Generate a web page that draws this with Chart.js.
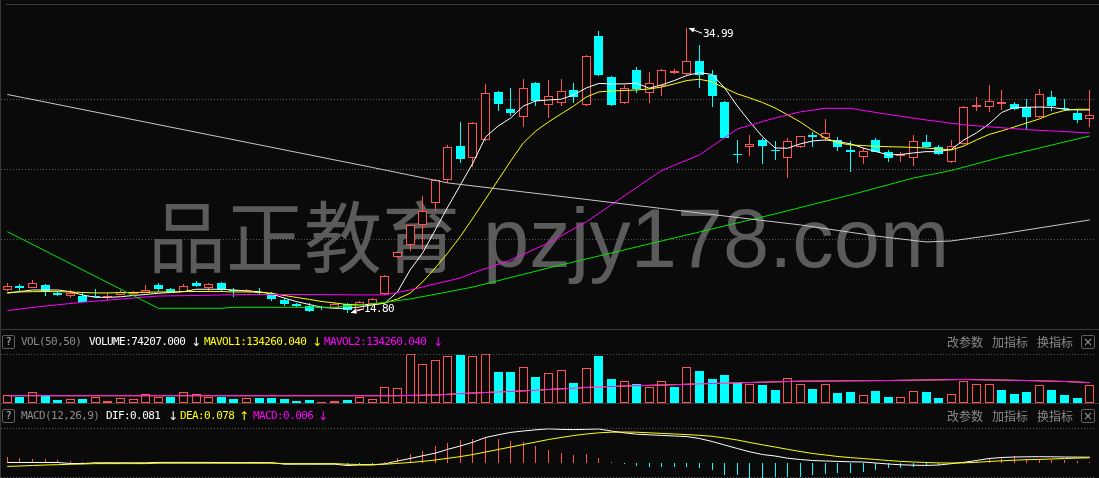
<!DOCTYPE html>
<html>
<head>
<meta charset="utf-8">
<script src="https://cdn.jsdelivr.net/npm/chart.js@4.4.0/dist/chart.umd.min.js"></script>
<style>
html, body { margin: 0; padding: 0; background: #0a0a0a; width: 1099px; height: 478px; overflow: hidden; }
#wrap { position: relative; width: 1099px; height: 478px; }
canvas { position: absolute; left: 1px; }
.t { position: absolute; font: 11px "DejaVu Sans Mono", monospace; letter-spacing: -0.6px; line-height: 13px; white-space: nowrap; }
.ar { position: absolute; font: 12px "DejaVu Sans", sans-serif; line-height: 13px; }
.cn { position: absolute; font: 12px "Noto Sans CJK SC", sans-serif; line-height: 14px; color: #8a8a8a; white-space: nowrap; }
.hl { position: absolute; height: 1px; background: #3a3a3a; }
.dot { position: absolute; left: 1px; width: 1095px; height: 1px;
       background-image: linear-gradient(to right, #555 1px, transparent 1px); background-size: 3px 1px; }
.q { position: absolute; left: 2px; width: 11px; height: 12px; border: 1px solid #5f5f5f; border-radius: 2px;
     font: 10px "DejaVu Sans Mono", monospace; line-height: 12px; color: #bbb; text-align: center; }
.xb { position: absolute; left: 1081px; width: 12px; height: 12px; border: 1px solid #5f5f5f; border-radius: 2px;
      font: 12px "DejaVu Sans", sans-serif; line-height: 12px; color: #999; text-align: center; }
#wm { position: absolute; left: 148px; top: 177px; color: #5b5b5b; white-space: nowrap; line-height: 90px; }
</style>
</head>
<body>
<div id="wrap">
  <div id="wm"><span style="font: 78px 'Noto Sans CJK SC', sans-serif;">品正教育</span><span style="font: 83px 'Liberation Sans', sans-serif;"> pzjy178.com</span></div>

  <canvas id="main" width="1095" height="324" style="top:5px"></canvas>
  <canvas id="vol" width="1095" height="49" style="top:354px"></canvas>
  <canvas id="macd" width="1095" height="50" style="top:428px"></canvas>

  <div class="hl" style="left:0;top:0;width:1px;height:478px;"></div>
  <div class="hl" style="left:6px;top:4px;width:1093px;"></div>
  <div class="hl" style="left:0;top:329px;width:1099px;"></div>
  <div class="hl" style="left:0;top:403px;width:1099px;"></div>
  <div class="dot" style="top:354px"></div>
  <div class="dot" style="top:428px"></div>
  <div class="dot" style="top:477px"></div>

  <div class="q" style="top:335px">?</div>
  <div class="t" style="left:21px;top:335px;color:#8a8a8a">VOL(50,50)</div>
  <div class="t" style="left:89px;top:335px;color:#fff">VOLUME:74207.000</div>
  <div class="ar" style="left:191px;top:336px;color:#fff">↓</div>
  <div class="t" style="left:204px;top:335px;color:#ffff00">MAVOL1:134260.040</div>
  <div class="ar" style="left:312px;top:336px;color:#ffff00">↓</div>
  <div class="t" style="left:324px;top:335px;color:#ff00ff">MAVOL2:134260.040</div>
  <div class="ar" style="left:433px;top:336px;color:#ff00ff">↓</div>
  <div class="cn" style="left:947px;top:335px">改参数</div>
  <div class="cn" style="left:992px;top:335px">加指标</div>
  <div class="cn" style="left:1037px;top:335px">换指标</div>
  <div class="xb" style="top:335px">×</div>

  <div class="q" style="top:409px">?</div>
  <div class="t" style="left:21px;top:409px;color:#8a8a8a">MACD(12,26,9)</div>
  <div class="t" style="left:106px;top:409px;color:#fff">DIF:0.081</div>
  <div class="ar" style="left:168px;top:410px;color:#fff">↓</div>
  <div class="t" style="left:180px;top:409px;color:#ffff00">DEA:0.078</div>
  <div class="ar" style="left:239px;top:410px;color:#ffff00">↑</div>
  <div class="t" style="left:253px;top:409px;color:#ff00ff">MACD:0.006</div>
  <div class="ar" style="left:318px;top:410px;color:#ff00ff">↓</div>
  <div class="cn" style="left:947px;top:409px">改参数</div>
  <div class="cn" style="left:992px;top:409px">加指标</div>
  <div class="cn" style="left:1037px;top:409px">换指标</div>
  <div class="xb" style="top:409px">×</div>

  <div class="t" id="hiLabel" style="color:#fff"></div>
  <div class="t" id="loLabel" style="color:#fff"></div>
</div>

<script>
// daily candles
const openP = [16.43,16.69,16.57,16.77,16.18,16.01,16.01,15.98,15.93,16.08,
  16.10,16.22,16.77,16.46,16.27,16.89,16.55,16.89,16.41,16.34,
  16.25,16.11,15.70,15.44,15.27,15.22,15.15,15.39,14.99,15.42,
  16.11,18.73,19.58,21.00,22.57,24.22,26.63,25.76,27.06,30.47,
  29.26,28.71,31.09,29.57,29.67,30.61,29.55,34.44,31.51,29.67,
  32.03,30.42,30.92,31.80,31.72,32.65,31.68,29.78,26.09,26.54,
  27.06,26.33,25.76,26.54,27.42,27.22,27.04,26.35,25.83,27.06,
  26.19,25.92,25.80,26.92,26.54,25.48,26.78,29.38,29.38,29.64,
  29.62,29.38,28.71,30.09,29.31,28.98,28.53];
const highP = [16.89,16.86,17.10,16.84,16.36,16.41,16.18,16.46,16.18,16.41,
  16.34,16.77,16.89,16.57,16.84,17.05,16.91,16.95,16.55,16.48,
  16.55,16.27,15.82,15.52,15.47,15.27,15.56,15.47,15.66,15.85,
  17.45,19.15,21.05,23.08,24.30,26.71,28.32,28.30,31.04,30.50,
  30.73,31.37,31.15,31.32,31.37,31.09,33.10,34.80,31.62,30.97,
  32.26,31.91,32.10,32.10,34.99,33.81,32.03,29.80,27.06,27.42,
  27.20,26.99,27.18,27.35,27.65,28.55,27.27,26.99,26.47,27.20,
  26.35,26.20,27.42,27.42,26.70,27.06,29.45,30.09,30.97,30.61,
  29.76,29.95,30.68,30.54,29.95,29.19,30.59];
const lowP = [16.36,16.34,16.55,16.01,16.01,15.84,15.56,15.88,15.70,16.05,
  16.05,16.20,16.36,16.20,16.25,16.60,16.36,16.25,15.93,16.27,
  16.06,15.63,15.27,15.23,14.87,15.00,15.10,14.80,14.95,15.40,
  16.05,18.70,19.20,19.25,22.04,24.01,25.41,25.16,27.00,29.14,
  28.79,28.00,29.50,28.64,29.50,29.71,29.50,31.60,29.50,29.63,
  30.42,29.71,30.18,31.75,31.70,30.73,29.42,27.20,25.41,25.92,
  25.36,25.64,24.34,26.50,26.58,26.99,26.28,24.81,25.36,26.20,
  25.52,25.52,25.21,26.50,25.97,25.45,26.70,29.14,29.07,29.19,
  29.17,27.82,28.65,29.14,29.10,28.25,28.00];
const closeP = [16.67,16.53,16.91,16.25,16.08,16.22,15.58,15.89,16.01,16.27,
  16.30,16.41,16.48,16.25,16.69,16.72,16.84,16.38,16.34,16.41,
  16.18,15.77,15.42,15.30,14.94,15.11,15.39,14.99,15.54,15.77,
  17.40,19.11,21.00,22.00,24.22,26.54,25.69,28.25,30.38,29.59,
  29.00,30.73,29.83,30.16,30.52,30.11,33.05,31.68,29.55,30.73,
  30.70,31.09,32.03,31.96,32.65,31.68,30.20,27.22,26.03,26.75,
  26.66,26.28,26.97,27.33,27.28,27.54,26.54,26.19,26.26,26.22,
  25.80,26.07,26.97,26.56,26.04,26.66,29.38,29.55,29.81,29.76,
  29.24,28.71,30.30,29.47,29.24,28.50,28.81];

// moving averages on the price panel
const ma5 = [16.18,16.30,16.41,16.41,16.41,16.29,16.05,15.89,15.89,15.93,
  16.02,16.09,16.18,16.23,16.29,16.46,16.46,16.46,16.41,16.34,
  16.29,16.13,15.84,15.58,15.38,15.18,15.11,15.11,15.20,15.35,
  15.47,16.27,17.83,19.04,20.67,22.30,23.87,25.43,27.27,28.05,
  28.62,29.47,29.83,29.90,29.95,30.26,30.75,31.07,31.04,31.04,
  31.09,30.73,30.97,31.28,31.64,31.84,31.71,30.75,29.47,28.34,
  27.29,26.49,26.47,26.78,26.99,27.06,26.95,26.78,26.49,26.24,
  26.00,26.03,26.14,26.23,26.23,26.39,27.06,27.56,28.20,29.01,
  29.37,29.38,29.40,29.37,29.24,29.19,29.19];
const ma10 = [16.23,16.27,16.29,16.30,16.29,16.27,16.23,16.20,16.20,16.22,
  16.23,16.25,16.27,16.27,16.30,16.30,16.30,16.30,16.27,16.27,
  16.25,16.18,16.02,15.88,15.74,15.59,15.49,15.38,15.35,15.38,
  15.49,15.77,16.18,16.98,17.97,19.04,20.21,21.52,22.87,24.22,
  25.57,26.85,27.70,28.34,28.91,29.47,30.11,30.47,30.54,30.57,
  30.61,30.68,30.82,31.04,31.28,31.37,31.18,30.75,30.33,30.04,
  29.72,29.33,28.84,28.34,27.73,27.20,26.85,26.71,26.66,26.61,
  26.58,26.56,26.53,26.49,26.42,26.35,26.63,27.06,27.45,27.70,
  27.98,28.27,28.55,28.91,29.15,29.24,29.23];
// slower averages, read at [day, value]
const ma30 = [[1,14.95],[4,15.27],[7,15.54],[11,15.84],[13,15.98],[16,16.02],[20,16.09],[25,16.09],
  [29,16.06],[31,16.06],[33,16.41],[35,16.84],[37,17.26],[38,17.62],[41,18.54],[44,19.75],
  [47,21.24],[50,23.08],[53,24.89],[56,26.00],[59,27.84],[62,28.62],[64,29.05],[66,29.31],
  [68,29.30],[71,28.87],[74,28.48],[77,28.13],[82,27.79],[87,27.56]];
const ma60 = [[1,20.55],[13,15.11],[18,15.11],[19,15.18],[27,15.18],[30,15.42],[33,15.77],[36,16.27],
  [38,16.62],[44,17.97],[50,19.25],[56,20.53],[62,21.81],[68,23.16],[73,24.36],[76,24.89],
  [80,25.85],[87,27.34]];
const ma250 = [[1,30.29],[30,25.11],[36,24.01],[44,23.16],[52,22.30],[58,21.66],[64,21.03],
  [70,20.24],[74,19.82],[76,19.89],[80,20.39],[87,21.38]];
const priceGrid = [20, 25, 30];

// volume panel
const volume = [30800,23900,43800,30800,10900,15400,15400,23900,6900,19500,
  15400,35300,23900,23900,43800,35300,23900,23900,15400,19500,
  19500,19500,15400,6900,10900,2400,6900,10900,23900,15400,
  65300,60800,197500,159000,173100,189000,194600,189000,197500,126100,
  126100,146400,105000,120800,133800,79900,142300,190600,96900,91200,
  75400,66900,91200,62900,146400,131000,96900,113900,79900,78300,
  71000,54300,99800,78300,58400,78300,41400,45800,31600,49900,
  24300,23100,49900,45800,20300,35700,88400,78300,78300,54300,
  37300,45800,74200,54300,32800,20300,74207];
const mavol = [[1,29600],[32,29600],[35,32400],[38,40500],[41,46600],[44,54700],[47,62900],
  [50,68900],[54,74200],[57,79100],[60,83100],[64,88400],[71,91200],[77,95300],[82,91200],
  [85,87200],[87,82700]];

// MACD panel
const dif = [0.05,0.05,0.05,0.05,0.05,-0.05,-0.05,0.02,0.02,0.02,
  0.02,0.02,0.06,0.06,0.06,0.06,0.06,0.04,0.04,0.04,
  0.04,0.04,-0.12,-0.12,-0.12,-0.12,-0.12,-0.25,-0.20,-0.20,
  -0.08,0.20,0.45,0.72,0.98,1.37,1.70,2.08,2.55,2.82,
  3.06,3.20,3.32,3.42,3.36,3.34,3.37,3.40,3.20,3.02,
  2.88,2.82,2.76,2.70,2.64,2.45,2.15,1.80,1.45,1.12,
  0.85,0.70,0.48,0.35,0.25,0.20,0.16,0.12,0.10,0.00,
  -0.10,-0.18,-0.22,-0.24,-0.20,-0.07,0.07,0.25,0.45,0.55,
  0.60,0.62,0.63,0.62,0.60,0.59,0.58];
const dea = [-0.34,-0.30,-0.25,-0.20,-0.17,-0.13,-0.10,-0.06,-0.06,-0.06,
  -0.06,-0.06,-0.02,-0.02,-0.02,-0.02,-0.02,-0.02,-0.02,-0.02,
  -0.02,-0.02,-0.06,-0.06,-0.06,-0.06,-0.06,-0.12,-0.15,-0.15,
  -0.12,-0.04,0.05,0.16,0.30,0.47,0.64,0.85,1.10,1.35,
  1.60,1.85,2.10,2.35,2.55,2.75,2.90,3.02,3.08,3.10,
  3.08,3.02,2.96,2.90,2.84,2.77,2.67,2.50,2.30,2.05,
  1.82,1.60,1.37,1.15,0.95,0.80,0.65,0.54,0.45,0.35,
  0.25,0.16,0.10,0.05,0.01,0.00,0.02,0.07,0.15,0.22,
  0.28,0.33,0.36,0.40,0.45,0.49,0.52];
const macdHist = [0.60,0.53,0.45,0.36,0.30,0.25,0.15,0.10,0.08,0.07,
  0.05,0.05,0.05,0.05,0.05,0.05,0.05,0.04,0.04,0.04,
  0.04,0.04,-0.04,-0.05,-0.05,-0.05,-0.10,-0.15,-0.10,-0.05,
  0.08,0.50,0.86,1.21,1.74,2.02,2.27,2.37,2.62,2.37,
  2.16,2.09,1.74,1.30,1.05,0.80,0.87,0.52,0.10,-0.08,
  -0.25,-0.35,-0.35,-0.35,-0.35,-0.53,-0.70,-1.23,-1.23,-1.58,
  -1.82,-1.80,-1.58,-1.40,-1.23,-1.05,-0.95,-0.95,-0.88,-0.70,
  -0.53,-0.53,-0.35,-0.30,-0.21,-0.05,0.05,0.17,0.52,0.63,
  0.70,0.42,0.42,0.35,0.28,0.17,0.06];

const RED = '#ff5252';
const CYAN = '#00ffff';
const BG = '#0a0a0a';

const days = closeP.map((_, i) => i + 1);
const up = closeP.map((c, i) => c >= openP[i]);
// volume colour follows the close against the previous close
const volUp = closeP.map((c, i) => i === 0 ? up[0] : c >= closeP[i - 1]);

const pts = arr => arr.map((v, i) => ({ x: i + 1, y: v }));
const pairPts = arr => arr.map(([d, v]) => ({ x: d, y: v }));

// crisp 1px bars: put bar edges on whole pixels
const snapBars = {
  id: 'snapBars',
  beforeDatasetsDraw(chart) {
    chart.data.datasets.forEach((ds, i) => {
      const meta = chart.getDatasetMeta(i);
      if (meta.type !== 'bar') return;
      meta.data.forEach(el => {
        el.x = Math.floor(el.x) + 0.5;
        el.y = Math.round(el.y);
        el.base = Math.round(el.base);
        if (el.base === el.y) el.base = el.y + 1;
      });
    });
  }
};

const priceGridLines = {
  id: 'priceGridLines',
  beforeDatasetsDraw(chart) {
    const { ctx, chartArea, scales: { y } } = chart;
    ctx.save();
    ctx.strokeStyle = '#555';
    ctx.lineWidth = 1;
    ctx.setLineDash([1, 2]);
    priceGrid.forEach(v => {
      const py = Math.round(y.getPixelForValue(v)) + 0.5;
      ctx.beginPath();
      ctx.moveTo(chartArea.left, py);
      ctx.lineTo(chartArea.right, py);
      ctx.stroke();
    });
    ctx.restore();
  }
};

// max / min price arrows
const extremes = {
  id: 'extremes',
  afterDatasetsDraw(chart) {
    const { ctx, scales: { x, y } } = chart;
    const hi = highP.indexOf(Math.max(...highP));
    const lo = lowP.indexOf(Math.min(...lowP));
    ctx.save();
    ctx.strokeStyle = '#fff';
    ctx.fillStyle = '#fff';
    ctx.lineWidth = 1;
    const arrow = (tx, ty, ex, ey) => {
      ctx.beginPath();
      ctx.moveTo(tx, ty);
      ctx.lineTo(ex, ey);
      ctx.stroke();
      const a = Math.atan2(ey - ty, ex - tx);
      ctx.beginPath();
      ctx.moveTo(tx, ty);
      ctx.lineTo(tx + 6 * Math.cos(a - 0.45), ty + 6 * Math.sin(a - 0.45));
      ctx.lineTo(tx + 6 * Math.cos(a + 0.45), ty + 6 * Math.sin(a + 0.45));
      ctx.closePath();
      ctx.fill();
    };
    const hx = Math.floor(x.getPixelForValue(hi + 1)), hy = y.getPixelForValue(highP[hi]);
    arrow(hx + 3, hy, hx + 16, hy + 5);
    const lx = Math.floor(x.getPixelForValue(lo + 1)), ly = y.getPixelForValue(lowP[lo]);
    arrow(lx + 4, ly, lx + 16, ly - 3.5);
    ctx.restore();

    const left = chart.canvas.offsetLeft, top = chart.canvas.offsetTop;
    const hl = document.getElementById('hiLabel');
    hl.textContent = highP[hi].toFixed(2);
    hl.style.left = (left + hx + 17) + 'px';
    hl.style.top = (top + hy + 6 - 7) + 'px';
    const ll = document.getElementById('loLabel');
    ll.textContent = lowP[lo].toFixed(2);
    ll.style.left = (left + lx + 17) + 'px';
    ll.style.top = (top + ly - 3.5 - 7) + 'px';
  }
};

const xScale = { type: 'linear', min: 0.5, max: 87.5, offset: false, display: false };
const baseOpts = (yMin, yMax) => ({
  responsive: false,
  animation: false,
  devicePixelRatio: 1,
  events: [],
  layout: { padding: 0 },
  plugins: { legend: { display: false }, tooltip: { enabled: false } },
  scales: { x: xScale, y: { min: yMin, max: yMax, display: false } }
});

const lineDs = (data, color, order) => ({
  type: 'line', data, borderColor: color, borderWidth: 1, pointRadius: 0,
  tension: 0, spanGaps: true, order
});

new Chart(document.getElementById('main'), {
  type: 'bar',
  data: {
    datasets: [
      lineDs(pairPts(ma250), '#c8c8c8', 0),
      lineDs(pairPts(ma60), '#00e600', 0),
      lineDs(pairPts(ma30), '#ff00ff', 0),
      lineDs(pts(ma10), '#ffff00', 0),
      lineDs(pts(ma5), '#ffffff', 0),
      {
        data: days.map((d, i) => ({ x: d, y: [openP[i], closeP[i]] })),
        backgroundColor: up.map(u => u ? BG : CYAN),
        borderColor: up.map(u => u ? RED : CYAN),
        borderWidth: 1, borderSkipped: false, inflateAmount: 0,
        barThickness: 9, grouped: false, order: 1
      },
      {
        data: days.map((d, i) => ({ x: d, y: [lowP[i], highP[i]] })),
        backgroundColor: up.map(u => u ? RED : CYAN),
        borderWidth: 0, inflateAmount: 0,
        barThickness: 1, grouped: false, order: 2
      }
    ]
  },
  options: baseOpts(13.64, 36.64),
  plugins: [snapBars, priceGridLines, extremes]
});

new Chart(document.getElementById('vol'), {
  type: 'bar',
  data: {
    datasets: [
      lineDs(pairPts(mavol), '#ffff00', 1),
      lineDs(pairPts(mavol), '#ff00ff', 0),
      {
        data: pts(volume),
        backgroundColor: volUp.map(u => u ? BG : CYAN),
        borderColor: volUp.map(u => u ? RED : CYAN),
        borderWidth: 1, borderSkipped: false, inflateAmount: 0,
        barThickness: 9, grouped: false, order: 2
      }
    ]
  },
  options: baseOpts(0, 198700),
  plugins: [snapBars]
});

new Chart(document.getElementById('macd'), {
  type: 'bar',
  data: {
    datasets: [
      lineDs(pts(dea), '#ffff00', 0),
      lineDs(pts(dif), '#ffffff', 1),
      {
        data: pts(macdHist),
        backgroundColor: macdHist.map(v => v >= 0 ? RED : CYAN),
        borderWidth: 0, inflateAmount: 0,
        barThickness: 1, grouped: false, order: 2
      }
    ]
  },
  options: baseOpts(-1.5, 3.5),
  plugins: [snapBars]
});
</script>
</body>
</html>
